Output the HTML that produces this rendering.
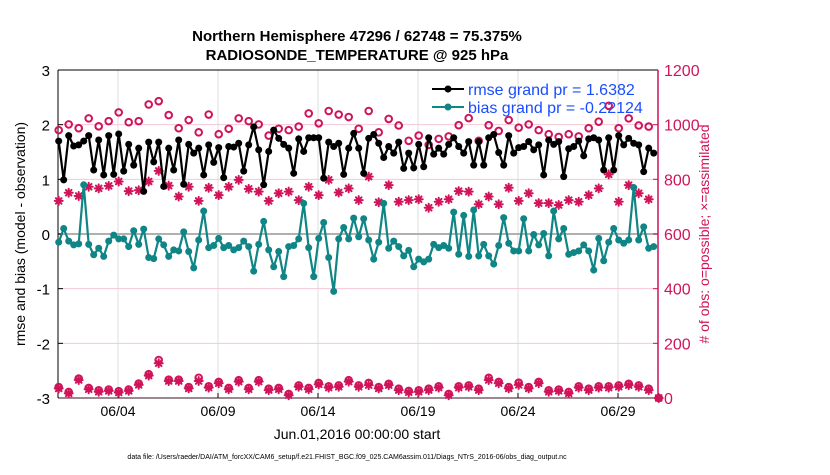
<!DOCTYPE html>
<html><head><meta charset="utf-8"><style>
body{margin:0;background:#fff;}
svg text{font-family:"Liberation Sans",sans-serif;}
</style></head><body>
<svg id="chart" width="830" height="470" xmlns="http://www.w3.org/2000/svg">
<rect width="830" height="470" fill="#fff"/>
<text x="357" y="41" text-anchor="middle" font-size="15" font-weight="bold">Northern Hemisphere 47296 / 62748 = 75.375%</text>
<text x="357" y="60" text-anchor="middle" font-size="15" font-weight="bold">RADIOSONDE_TEMPERATURE @ 925 hPa</text>
<g id="grid"></g>
<g id="axes"></g>
<g id="marks"></g>
<g>
 <line x1="432" y1="89" x2="464" y2="89" stroke="#000" stroke-width="2"/><circle cx="448" cy="89" r="3.5" fill="#000"/>
 <text x="468" y="95" font-size="16" fill="#1a4cff">rmse grand pr = 1.6382</text>
 <line x1="432" y1="107" x2="464" y2="107" stroke="#108585" stroke-width="2"/><circle cx="448" cy="107" r="3.5" fill="#108585"/>
 <text x="468" y="113" font-size="16" fill="#1a4cff">bias grand pr = -0.22124</text>
</g>
<text transform="translate(25,234) rotate(-90)" text-anchor="middle" font-size="14">rmse and bias (model - observation)</text>
<text transform="translate(709,234) rotate(-90)" text-anchor="middle" font-size="14" fill="#d0145a"># of obs: o=possible; ×=assimilated</text>
<text x="357" y="439" text-anchor="middle" font-size="14">Jun.01,2016 00:00:00 start</text>
<text x="347" y="459" text-anchor="middle" font-size="7">data file: /Users/raeder/DAI/ATM_forcXX/CAM6_setup/f.e21.FHIST_BGC.f09_025.CAM6assim.011/Diags_NTrS_2016-06/obs_diag_output.nc</text>
</svg>
<script>
const rmse=[1.70,0.99,1.80,1.61,1.63,1.70,1.80,1.17,1.72,1.08,1.80,1.09,1.83,1.15,1.64,1.26,1.57,0.78,1.68,1.32,
1.68,0.87,1.57,1.17,1.72,0.91,1.64,1.48,1.57,1.08,1.63,1.31,1.58,1.03,1.60,1.59,1.66,1.15,1.63,1.96,
1.54,0.90,1.51,1.90,1.75,1.64,1.57,1.11,1.74,1.51,1.76,1.76,1.76,1.02,1.68,1.60,1.66,1.09,1.57,1.84,
1.57,1.11,1.75,1.82,1.66,1.40,1.60,1.48,1.68,1.20,1.48,1.21,1.64,1.23,1.76,1.46,1.57,1.46,1.64,1.76,
1.60,1.48,1.69,1.26,1.69,1.26,1.76,1.82,1.49,1.26,1.80,1.48,1.58,1.60,1.69,1.54,1.63,1.08,1.72,1.64,
1.69,1.05,1.56,1.60,1.70,1.43,1.74,1.76,1.72,1.17,1.76,1.17,1.80,1.63,1.75,1.66,1.63,1.14,1.57,1.48];
const bias=[-0.15,0.10,-0.13,-0.20,-0.18,0.90,-0.19,-0.38,-0.26,-0.41,-0.13,-0.02,-0.09,-0.09,-0.23,0.06,-0.19,0.09,-0.43,-0.45,
-0.09,-0.20,-0.41,-0.29,-0.31,0.04,-0.32,-0.62,-0.11,0.42,-0.25,-0.21,-0.08,-0.25,-0.21,-0.29,-0.25,-0.13,-0.23,-0.68,
-0.19,0.23,-0.29,-0.60,-0.32,-0.78,-0.23,-0.21,-0.09,0.56,-0.25,-0.78,-0.08,0.21,-0.43,-1.05,-0.09,0.12,-0.09,0.29,
-0.05,0.28,-0.11,-0.46,-0.15,0.56,-0.26,-0.13,-0.23,-0.40,-0.30,-0.60,-0.46,-0.51,-0.46,-0.19,-0.25,-0.21,-0.26,0.40,
-0.37,0.34,-0.41,0.44,-0.40,-0.19,-0.40,-0.55,-0.21,0.30,-0.17,-0.31,-0.31,0.28,-0.31,-0.01,-0.20,0.01,-0.40,0.42,
-0.09,0.10,-0.37,-0.34,-0.31,-0.20,-0.31,-0.66,-0.08,-0.49,-0.15,0.10,-0.11,-0.17,-0.11,0.85,-0.11,0.13,-0.26,-0.23];
const possTop=[980,1001,987,1023,994,1013,1045,1009,1013,1074,1086,1035,987,1017,972,1037,965,985,1023,1013,
1001,960,985,980,993,1041,1005,1050,1037,1028,985,1050,972,1021,997,941,960,926,948,957,
998,1024,941,998,977,1017,989,1001,980,965,955,965,957,987,1011,1069,987,1023,997,993];
const assimTop=[721,751,739,773,767,776,792,757,760,792,831,777,737,773,721,769,742,773,798,765,
755,721,749,755,724,773,742,798,752,767,724,810,716,779,718,724,727,696,718,727,
757,755,709,737,709,769,721,749,713,713,706,724,718,742,767,818,718,779,749,727];
const assimBot=[35,17,66,32,23,26,20,26,48,82,127,62,62,35,62,38,54,32,60,32,60,29,32,10,41,32,50,38,41,60,
41,47,35,47,29,21,23,29,38,10,38,41,29,66,54,35,48,35,54,23,26,17,38,29,38,38,41,47,41,29,0];
const possBot=[40,22,71,37,28,31,25,31,53,87,139,67,67,40,74,43,59,37,65,37,65,34,37,15,46,37,55,43,46,65,
46,55,40,52,34,26,28,34,43,15,43,46,34,74,59,40,56,40,59,28,31,22,43,34,43,43,46,52,46,34,0];
const xTickLabels=["06/04","06/09","06/14","06/19","06/24","06/29"];
const xTickDays=[3,8,13,18,23,28];
const yLeftTicks=[-3,-2,-1,0,1,2,3];
const yRightTicks=[0,200,400,600,800,1000,1200];

const NS="http://www.w3.org/2000/svg";
const L=58,R=658,T=70,B=398;
const xDay=d=>L+d*20;
const yL=v=>T+(3-v)/6*(B-T);
const yR=v=>B-v/1200*(B-T);
function mk(tag,attrs,parent){const e=document.createElementNS(NS,tag);for(const k in attrs)e.setAttribute(k,attrs[k]);parent.appendChild(e);return e;}
const grid=document.getElementById('grid'),axes=document.getElementById('axes'),marks=document.getElementById('marks');
const red="#d0145a",teal="#108585";
xTickDays.forEach((d,i)=>{
 const g=mk('line',{x1:xDay(d),x2:xDay(d),y1:T,y2:B,stroke:"#dcdcdc","stroke-width":1},grid);
 
 
 mk('line',{x1:xDay(d),x2:xDay(d),y1:B,y2:B-5,stroke:"#000"},axes);
 const t=mk('text',{x:xDay(d),y:416,"text-anchor":"middle","font-size":14},axes);t.textContent=xTickLabels[i];
 
 
});
yRightTicks.forEach(v=>{
 if(v>0&&v<1200){const g=mk('line',{x1:L,x2:R,y1:yR(v),y2:yR(v),stroke:"#f4c8d8","stroke-width":1},grid);
 
 }
 mk('line',{x1:R,x2:R-5,y1:yR(v),y2:yR(v),stroke:red},axes);
 const t=mk('text',{x:664,y:yR(v)+6,"font-size":16,fill:red},axes);t.textContent=v;
 
 
});
yLeftTicks.forEach(v=>{
 mk('line',{x1:L,x2:L+5,y1:yL(v),y2:yL(v),stroke:"#000"},axes);
 const t=mk('text',{x:50,y:yL(v)+6,"text-anchor":"end","font-size":15},axes);t.textContent=v;
 
 
});
const z=mk('line',{x1:L,x2:R,y1:yL(0),y2:yL(0),stroke:"#b0b0b0","stroke-width":2},grid);


mk('line',{x1:L,x2:R,y1:T,y2:T,stroke:"#000"},axes);
mk('line',{x1:L,x2:R,y1:B,y2:B,stroke:"#3a1020"},axes);
mk('line',{x1:L,x2:L,y1:T,y2:B,stroke:"#000"},axes);
mk('line',{x1:R,x2:R,y1:T,y2:B,stroke:red,"stroke-width":1.5},axes);

function star(x,y,name){
 const g=mk('g',{stroke:red,"stroke-width":2,"stroke-linecap":"round"},marks);
 
 
 const s=4;
 mk('line',{x1:x-s,x2:x+s,y1:y,y2:y},g);mk('line',{x1:x,x2:x,y1:y-s,y2:y+s},g);
 mk('line',{x1:x-s*0.7,x2:x+s*0.7,y1:y-s*0.7,y2:y+s*0.7},g);mk('line',{x1:x-s*0.7,x2:x+s*0.7,y1:y+s*0.7,y2:y-s*0.7},g);
}
function ring(x,y,name){
 const c=mk('circle',{cx:x,cy:y,r:3.3,fill:"none",stroke:red,"stroke-width":2},marks);
 
 
}
possTop.forEach((v,i)=>ring(xDay(0.035+i*0.5),yR(v),'possible-obs-top'));
assimTop.forEach((v,i)=>star(xDay(0.035+i*0.5),yR(v),'assimilated-obs-top'));
possBot.forEach((v,i)=>ring(xDay(0.035+i*0.5),yR(v),'possible-obs-bottom'));
assimBot.forEach((v,i)=>star(xDay(0.035+i*0.5),yR(v),'assimilated-obs-bottom'));

function series(arr,color,name){
 const pts=arr.map((v,i)=>[xDay(0.035+i*0.25),yL(v)]);
 const p=mk('polyline',{points:pts.map(q=>q.join(',')).join(' '),fill:"none",stroke:color,"stroke-width":2.2},marks);
 
 
 pts.forEach(q=>{const c=mk('circle',{cx:q[0],cy:q[1],r:3.5,fill:color},marks);
  
  });
}
series(rmse,"#000",'rmse');
series(bias,teal,'bias');
</script>
</body></html>
